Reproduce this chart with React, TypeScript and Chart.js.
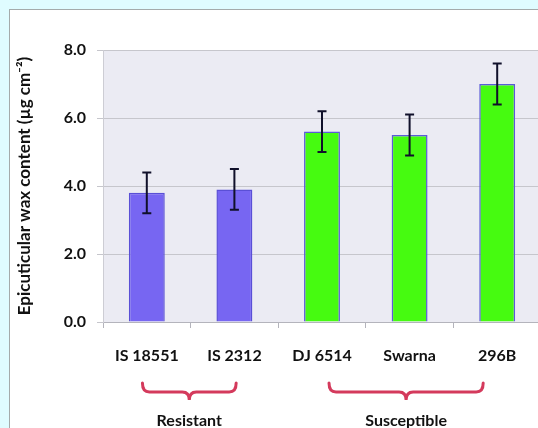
import React, { useEffect, useRef } from "react";
import { Chart, registerables } from "chart.js";

Chart.register(...registerables);

const categories = ["IS 18551", "IS 2312", "DJ 6514", "Swarna", "296B"];
const waxValues = [3.8, 3.9, 5.6, 5.5, 7.0];
const waxErrors = [0.6, 0.6, 0.6, 0.6, 0.6];
const groupOfCategory = [0, 0, 1, 1, 1];
const yTicks = [0, 2, 4, 6, 8];
const groupLabels = ["Resistant", "Susceptible"];
const groupFrom = [-0.05, 2.08];
const groupTo = [1.02, 3.84];

const groupFill = ["#7766f2", "#46fb10"];
const groupBorder = ["#5a4fd6", "#5a5ad8"];
const FONT = "Lato, 'Open Sans', sans-serif";

const plotBg = {
  id: "plotBg",
  beforeDraw(chart: any) {
    const { ctx, chartArea } = chart;
    ctx.save();
    ctx.fillStyle = "#ebebf3";
    ctx.fillRect(chartArea.left, chartArea.top, chartArea.right - chartArea.left, chartArea.bottom - chartArea.top);
    ctx.restore();
  },
};

const errorBars = {
  id: "errorBars",
  afterDatasetsDraw(chart: any) {
    const { ctx } = chart;
    const y = chart.scales.y;
    const meta = chart.getDatasetMeta(0);
    ctx.save();
    ctx.strokeStyle = "#10102a";
    ctx.lineWidth = 2;
    meta.data.forEach((bar: any, i: number) => {
      const v = waxValues[i];
      const e = waxErrors[i];
      const x = bar.x;
      const yt = y.getPixelForValue(v + e);
      const yb = y.getPixelForValue(v - e);
      ctx.beginPath();
      ctx.moveTo(x, yt);
      ctx.lineTo(x, yb);
      ctx.moveTo(x - 4.5, yt);
      ctx.lineTo(x + 4.5, yt);
      ctx.moveTo(x - 4.5, yb);
      ctx.lineTo(x + 4.5, yb);
      ctx.stroke();
    });
    ctx.restore();
  },
};

const braces = {
  id: "braces",
  afterDraw(chart: any) {
    const { ctx, chartArea } = chart;
    const xs = chart.scales.x;
    const base = chartArea.bottom;
    const yTop = base + 61;
    const yMid = base + 70;
    const yCusp = base + 78;
    ctx.save();
    ctx.strokeStyle = "#d43a5c";
    ctx.lineWidth = 3;
    ctx.lineCap = "round";
    groupLabels.forEach((label, g) => {
      const x1 = xs.getPixelForValue(groupFrom[g]);
      const x2 = xs.getPixelForValue(groupTo[g]);
      const xm = (x1 + x2) / 2;
      const r = 7;
      ctx.beginPath();
      ctx.moveTo(x1, yTop);
      ctx.quadraticCurveTo(x1, yMid, x1 + r, yMid);
      ctx.lineTo(xm - r, yMid);
      ctx.quadraticCurveTo(xm, yMid, xm, yCusp);
      ctx.quadraticCurveTo(xm, yMid, xm + r, yMid);
      ctx.lineTo(x2 - r, yMid);
      ctx.quadraticCurveTo(x2, yMid, x2, yTop);
      ctx.stroke();
      ctx.fillStyle = "#111";
      ctx.font = `bold 16px ${FONT}`;
      ctx.textAlign = "center";
      ctx.textBaseline = "middle";
      ctx.fillText(label, xm, base + 99);
    });
    ctx.restore();
  },
};

export default function App() {
  const ref = useRef<HTMLCanvasElement | null>(null);

  useEffect(() => {
    if (!ref.current) return;
    const chart = new Chart(ref.current, {
      type: "bar",
      data: {
        labels: categories,
        datasets: [
          {
            data: waxValues,
            backgroundColor: groupOfCategory.map((g) => groupFill[g]),
            borderColor: groupOfCategory.map((g) => groupBorder[g]),
            borderWidth: 1.5,
            barPercentage: 0.82,
            categoryPercentage: 0.5,
          },
        ],
      },
      options: {
        responsive: false,
        animation: false,
        devicePixelRatio: 1,
        layout: { padding: { left: 0, top: 50, right: 7, bottom: 0 } },
        plugins: { legend: { display: false }, tooltip: { enabled: false } },
        scales: {
          x: {
            afterFit: (s: any) => {
              s.height = 106;
            },
            grid: {
              display: true,
              offset: true,
              drawOnChartArea: false,
              drawTicks: true,
              tickLength: 6,
              color: "#b4b4bc",
            },
            border: { display: true, color: "#b4b4bc", width: 1 },
            ticks: {
              color: "#111",
              padding: 18,
              font: { family: FONT, size: 16, weight: "bold" },
            },
          },
          y: {
            min: 0,
            max: 8,
            afterFit: (s: any) => {
              s.width = 103;
            },
            afterBuildTicks: (s: any) => {
              s.ticks = yTicks.map((v) => ({ value: v }));
            },
            grid: {
              color: "#c6c6cc",
              lineWidth: 1,
              tickLength: 6,
            },
            border: { display: true, color: "#cdcdd4", width: 1 },
            ticks: {
              color: "#111",
              padding: 11,
              font: { family: FONT, size: 16, weight: "bold" },
              callback: (v: any) => Number(v).toFixed(1),
            },
            title: {
              display: true,
              text: "Epicuticular wax content (µg cm⁻²)",
              color: "#111",
              font: { family: FONT, size: 17, weight: "bold" },
              padding: { top: 14, bottom: 0 },
            },
          },
        },
      },
      plugins: [plotBg, errorBars, braces],
    });
    return () => chart.destroy();
  }, []);

  return (
    <div
      style={{
        position: "fixed",
        left: 0,
        top: 0,
        width: 538,
        height: 428,
        overflow: "hidden",
        background: "#dffcff",
      }}
    >
      <div
        style={{
          position: "absolute",
          left: 9,
          top: 9,
          width: 600,
          height: 500,
          background: "#ffffff",
          border: "1px solid #a4abab",
        }}
      />
      <canvas
        ref={ref}
        width={548}
        height={428}
        style={{ position: "absolute", left: 0, top: 0, width: 548, height: 428 }}
      />
    </div>
  );
}
